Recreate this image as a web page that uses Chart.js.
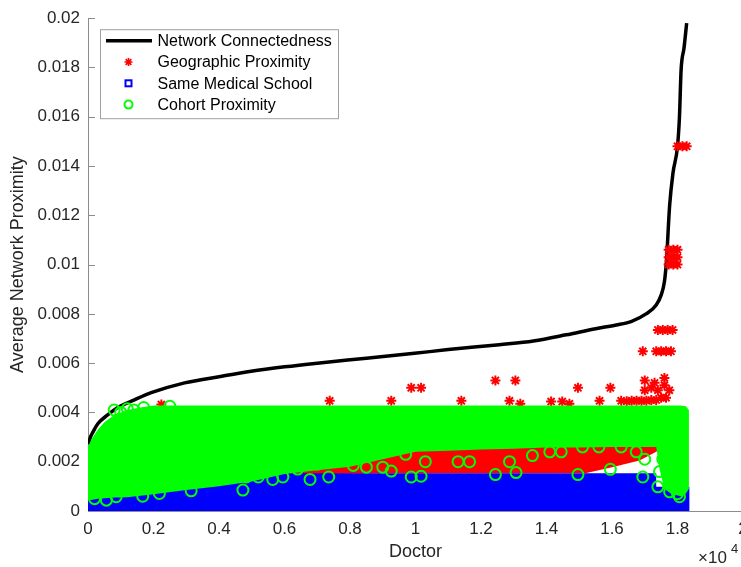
<!DOCTYPE html>
<html>
<head>
<meta charset="utf-8">
<script src="https://cdn.jsdelivr.net/npm/chart.js@4.4.1/dist/chart.umd.min.js"></script>
<style>
html,body{margin:0;padding:0;background:#fff;overflow:hidden;}
#wrap{width:741px;height:567px;overflow:hidden;}
</style>
</head>
<body>
<div id="wrap"><canvas id="chart" width="760" height="567"></canvas></div>
<script>
// x values are in units of 10^4 doctors
const seriesNames = ["Network Connectedness","Geographic Proximity","Same Medical School","Cohort Proximity"];

const xTicks = [0,0.2,0.4,0.6,0.8,1,1.2,1.4,1.6,1.8,2];
const xTickLabels = ["0","0.2","0.4","0.6","0.8","1","1.2","1.4","1.6","1.8","2"];
const yTicks = [0,0.002,0.004,0.006,0.008,0.01,0.012,0.014,0.016,0.018,0.02];
const yTickLabels = ["0","0.002","0.004","0.006","0.008","0.01","0.012","0.014","0.016","0.018","0.02"];

// network connectedness (sorted curve)
const netX = [0.002,0.005,0.015,0.03,0.06,0.091,0.14,0.193,0.295,0.4,0.498,0.6,0.7,0.85,0.997,1.1,1.256,1.36,1.46,1.55,1.613,1.66,1.704,1.735,1.75,1.76,1.766,1.776,1.786,1.8,1.806,1.811,1.82,1.828];
const netY = [0.0027,0.0029,0.0032,0.00354,0.0039,0.0042,0.0045,0.0048,0.0052,0.00545,0.00567,0.00585,0.006,0.0062,0.0064,0.00655,0.00675,0.0069,0.00715,0.0074,0.00755,0.0077,0.008,0.00836,0.00876,0.0093,0.0101,0.0124,0.0137,0.0148,0.016,0.0179,0.0188,0.0198];

// dense cohort cloud (outline of the filled mass)
const cohortBandX   = [0,0.01,0.03,0.05,0.08,0.12,0.16,0.2,0.3,0.4,0.5,0.6,0.7,0.8,0.9,1.0,1.1,1.2,1.3,1.4,1.5,1.6,1.7,1.735,1.745,1.76,1.78,1.81,1.825,1.835];
const cohortBandTop = [0.0026,0.0029,0.0033,0.0036,0.0039,0.0041,0.0042,0.00428,0.00428,0.00428,0.00428,0.00428,0.00428,0.00428,0.00428,0.00428,0.00428,0.00428,0.00428,0.00428,0.00428,0.00428,0.00428,0.00428,0.00428,0.00428,0.00428,0.00428,0.00425,0.0041];
const cohortBandLow = [0.00044,0.00045,0.0005,0.00052,0.00055,0.00056,0.00062,0.00068,0.00085,0.001,0.0012,0.0015,0.00165,0.0018,0.0021,0.0024,0.00245,0.0025,0.00253,0.00258,0.00258,0.0026,0.0026,0.0026,0.0017,0.0009,0.0007,0.0006,0.0007,0.0009];

// dense geographic mass
const geoBandX   = [0,0.05,0.12,0.3,0.5,0.7,0.9,1.2,1.522,1.6,1.684,1.735,1.745];
const geoBandTop = [0.0022,0.0032,0.0034,0.0034,0.0034,0.0034,0.0034,0.0034,0.0034,0.0034,0.0034,0.0034,0.0034];
const geoBandLow = [0.0009,0.001,0.0011,0.0012,0.0014,0.0015,0.00153,0.00153,0.00154,0.00178,0.00205,0.0024,0.0025];

// dense same-school mass
const schoolBandX   = [0,0.2,0.4,0.5,0.6,1.0,1.4,1.735,1.735,1.837];
const schoolBandTop = [0.0009,0.001,0.0011,0.0013,0.00153,0.00153,0.00153,0.00153,0.00098,0.00098];

// isolated geographic points
const geoX = [0.224,0.738,0.926,0.987,1.017,1.14,1.244,1.305,1.287,1.32,1.414,1.448,1.47,1.496,1.562,1.595,1.628,1.645,1.66,1.675,1.69,1.705,1.72,1.735,1.75,1.765,1.70,1.72,1.74,1.76,1.775,1.70,1.73,1.76,1.694,1.735,1.75,1.765,1.78,1.74,1.755,1.77,1.785,1.773,1.787,1.80,1.773,1.787,1.80,1.773,1.787,1.80,1.80,1.815,1.828];
const geoY = [0.00432,0.00447,0.00447,0.005,0.005,0.00447,0.0053,0.0053,0.00447,0.00435,0.00444,0.00444,0.00435,0.005,0.00447,0.005,0.00447,0.00445,0.00447,0.00447,0.00447,0.00447,0.0045,0.0045,0.0046,0.0046,0.0049,0.005,0.0049,0.0051,0.0049,0.0053,0.0052,0.0054,0.00648,0.00648,0.00648,0.00648,0.00648,0.00735,0.00735,0.00735,0.00735,0.01,0.01,0.01,0.0103,0.0103,0.0103,0.0106,0.0106,0.0106,0.0148,0.0148,0.0148];

// isolated cohort points
const cohortX = [0.02,0.056,0.086,0.167,0.218,0.315,0.422,0.473,0.483,0.52,0.564,0.595,0.64,0.678,0.70,0.735,0.81,0.85,0.9,0.926,0.97,0.987,1.017,1.03,1.13,1.165,1.244,1.287,1.307,1.357,1.41,1.445,1.496,1.51,1.56,1.595,1.628,1.674,1.694,1.70,1.74,1.745,1.755,1.776,1.80,1.806,0.08,0.1,0.12,0.14,0.17,0.25];
const cohortY = [0.0005,0.00044,0.00058,0.0006,0.00071,0.00082,0.00133,0.00085,0.00138,0.00138,0.00128,0.00138,0.0017,0.00128,0.0019,0.00138,0.00185,0.00178,0.00178,0.00162,0.0023,0.00138,0.00141,0.002,0.002,0.002,0.00148,0.002,0.00156,0.00225,0.0024,0.0024,0.00148,0.0026,0.0026,0.00169,0.0026,0.0024,0.00138,0.0021,0.00098,0.0016,0.0021,0.00078,0.0007,0.00058,0.0041,0.004,0.00415,0.0041,0.0042,0.00425];

const FONT = '"Liberation Sans", Arial, Helvetica, sans-serif';
const RED = "#ff0000", BLUE = "#0000ff", GREEN = "#00ff00", INK = "#262626", AXIS = "#8c8c8c";

const zip = (xs, ys) => xs.map((x, i) => ({ x, y: ys[i] }));

function drawStar(ctx, x, y, r){
  ctx.beginPath();
  for(let k=0;k<4;k++){
    const a = k*Math.PI/4;
    ctx.moveTo(x-Math.sin(a)*r, y-Math.cos(a)*r);
    ctx.lineTo(x+Math.sin(a)*r, y+Math.cos(a)*r);
  }
  ctx.stroke();
}

const decor = {
  id: "decor",
  beforeDatasetsDraw(chart){
    const { ctx, chartArea: a, scales: { x, y } } = chart;
    ctx.save();
    ctx.strokeStyle = AXIS; ctx.lineWidth = 1;
    ctx.beginPath();
    xTicks.forEach(v => { const px = Math.round(x.getPixelForValue(v)) + 0.5; ctx.moveTo(px, a.bottom); ctx.lineTo(px, a.bottom - 7); });
    yTicks.forEach(v => { const py = Math.round(y.getPixelForValue(v)) + 0.5; ctx.moveTo(a.left, py); ctx.lineTo(a.left + 7, py); });
    ctx.stroke();
    ctx.restore();
  },
  afterDraw(chart){
    const { ctx, chartArea: a } = chart;
    ctx.save();
    // exponent label
    ctx.fillStyle = INK; ctx.textBaseline = "alphabetic"; ctx.textAlign = "left";
    ctx.font = "17px " + FONT;
    ctx.fillText("\u00d710", 698, 563);
    ctx.font = "13px " + FONT;
    ctx.fillText("4", 731, 553);

    // legend box
    const L = { x: a.left + 12.5, y: a.top + 11.5, w: 238, h: 89 };
    ctx.fillStyle = "#fff"; ctx.fillRect(L.x, L.y, L.w, L.h);
    ctx.strokeStyle = "#a0a0a0"; ctx.lineWidth = 1; ctx.strokeRect(L.x, L.y, L.w, L.h);
    ctx.font = "16px " + FONT; ctx.textBaseline = "middle"; ctx.fillStyle = "#000";
    seriesNames.forEach((name, i) => {
      const cy = L.y + 11 + i * 21.3;
      const mx = L.x + 28;
      if (i === 0) {
        ctx.strokeStyle = "#000"; ctx.lineWidth = 3.5;
        ctx.beginPath(); ctx.moveTo(L.x + 5.5, cy); ctx.lineTo(L.x + 51.5, cy); ctx.stroke();
      } else if (i === 1) {
        ctx.strokeStyle = RED; ctx.lineWidth = 1.6; drawStar(ctx, mx, cy, 4);
      } else if (i === 2) {
        ctx.strokeStyle = BLUE; ctx.lineWidth = 2; ctx.strokeRect(mx - 3, cy - 3, 6, 6);
      } else {
        ctx.strokeStyle = GREEN; ctx.lineWidth = 2;
        ctx.beginPath(); ctx.arc(mx, cy, 4, 0, Math.PI * 2); ctx.stroke();
      }
      ctx.fillStyle = "#000";
      ctx.fillText(name, L.x + 57, cy + 1);
    });
    ctx.restore();
  }
};

const areaStyle = { type: "line", pointRadius: 0, borderWidth: 0, tension: 0 };

new Chart(document.getElementById("chart"), {
  type: "scatter",
  data: {
    datasets: [
      { label: "cohort points", data: zip(cohortX, cohortY), order: 0, pointStyle: "circle", pointRadius: 5.5,
        borderColor: GREEN, backgroundColor: "rgba(0,0,0,0)", borderWidth: 2 },
      { ...areaStyle, label: "cohort top", data: zip(cohortBandX, cohortBandTop), order: 1,
        borderColor: GREEN, backgroundColor: GREEN, fill: "+1" },
      { ...areaStyle, label: "cohort low", data: zip(cohortBandX, cohortBandLow), order: 1,
        borderColor: GREEN, fill: false },
      { ...areaStyle, label: "school", data: zip(schoolBandX, schoolBandTop), order: 2,
        borderColor: BLUE, backgroundColor: BLUE, fill: "origin" },
      { label: "geo points", data: zip(geoX, geoY), order: 3, pointStyle: "star", pointRadius: 5,
        borderColor: RED, backgroundColor: RED, borderWidth: 2 },
      { ...areaStyle, label: "geo top", data: zip(geoBandX, geoBandTop), order: 4,
        borderColor: RED, backgroundColor: RED, fill: "+1" },
      { ...areaStyle, label: "geo low", data: zip(geoBandX, geoBandLow), order: 4,
        borderColor: RED, fill: false },
      { type: "line", label: seriesNames[0], data: zip(netX, netY), order: 5, borderColor: "#000",
        borderWidth: 3.5, pointRadius: 0, cubicInterpolationMode: "monotone", fill: false }
    ]
  },
  options: {
    responsive: false,
    animation: false,
    events: [],
    layout: { padding: { top: 13, right: 17, left: 0, bottom: 0 } },
    plugins: { legend: { display: false }, tooltip: { enabled: false } },
    scales: {
      x: {
        type: "linear", min: 0, max: 2,
        afterBuildTicks: s => { s.ticks = xTicks.map(v => ({ value: v })); },
        afterFit: s => { s.height = 56; },
        ticks: { callback: (v, i) => xTickLabels[i], font: { family: FONT, size: 17 }, color: INK, padding: 8, maxRotation: 0, autoSkip: false },
        grid: { display: false, drawTicks: false },
        border: { display: true, color: AXIS, width: 1 },
        title: { display: true, text: "Doctor", font: { family: FONT, size: 18 }, color: INK, padding: { top: 0, bottom: 4 } }
      },
      y: {
        type: "linear", min: 0, max: 0.02,
        afterBuildTicks: s => { s.ticks = yTicks.map(v => ({ value: v })); },
        afterFit: s => { s.width = 88; },
        ticks: { callback: (v, i) => yTickLabels[i], font: { family: FONT, size: 17 }, color: INK, padding: 8, autoSkip: false },
        grid: { display: false, drawTicks: false },
        border: { display: true, color: AXIS, width: 1 },
        title: { display: true, text: "Average Network Proximity", font: { family: FONT, size: 18 }, color: INK, padding: { top: 7, bottom: 0 } }
      }
    }
  },
  plugins: [decor]
});
</script>
</body>
</html>
